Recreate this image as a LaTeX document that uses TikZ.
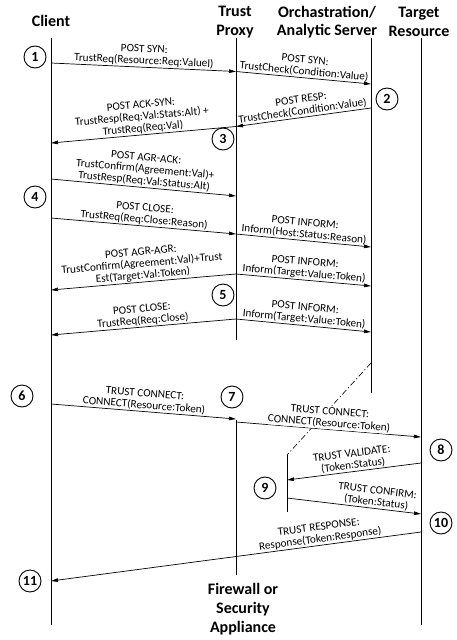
\documentclass[tikz,border=0pt]{standalone}
\usepackage{fontspec}
\setmainfont{Carlito}
\usetikzlibrary{arrows.meta}
\tikzset{
  life/.style={line width=0.8pt},
  msg/.style={line width=0.7pt, -{Triangle[length=7pt,width=3.6pt]}},
  lbl/.style={font=\fontsize{11.2}{11.8}\selectfont, align=center, sloped, above, inner sep=1pt},
  hdr/.style={font=\fontsize{16}{18.5}\selectfont\bfseries, align=center, inner sep=0pt},
  num/.style={circle, draw, line width=0.9pt, minimum size=22pt, inner sep=0pt, font=\fontsize{14}{14}\selectfont\bfseries},
}
\begin{document}
\begin{tikzpicture}[x=1pt,y=-1pt]
\useasboundingbox (0,0) rectangle (456,640);
% headers
\node[hdr] (hC) at (51,21) {Client};
\node[hdr] (hP) at (235,22) {Trust\\Proxy};
\node[hdr] (hO) at (327,22) {Orchastration/\\Analytic Server};
\node[hdr] (hT) at (419,22) {Target\\Resource};
\node[hdr, font=\fontsize{16}{19}\selectfont\bfseries] (hF) at (243,609) {Firewall or\\Security\\Appliance};
% lifelines
\coordinate (C0) at (51,38);  \coordinate (C1) at (51,625);
\coordinate (P0) at (236,38); \coordinate (P1) at (236,340);
\coordinate (P2) at (236,420); \coordinate (P3) at (236,575);
\coordinate (O0) at (371,38); \coordinate (O1) at (371,393);
\coordinate (T0) at (421,38); \coordinate (T1) at (421,625);
\coordinate (N0) at (287,455); \coordinate (N1) at (287,512);
\coordinate (D0) at (371,363);
\draw[life] (C0) -- (C1);
\draw[life] (P0) -- (P1);
\draw[life] (P2) -- (P3);
\draw[life] (O0) -- (O1);
\draw[life] (T0) -- (T1);
\draw[life] (N0) -- (N1);
\draw[line width=0.6pt, dash pattern=on 6pt off 2.5pt on 1.2pt off 2.5pt] (D0) -- (N0);
% message endpoints
\coordinate (a1) at (51,63);   \coordinate (b1) at (236,71.5); \coordinate (c1) at (371,84);
\coordinate (a2) at (371,108); \coordinate (b2) at (236,126.5); \coordinate (c2) at (51,143);
\coordinate (a3) at (51,179);  \coordinate (b3) at (236,196);
\coordinate (a4) at (51,218);  \coordinate (b4) at (236,234); \coordinate (c4) at (371,247);
\coordinate (b5) at (236,274); \coordinate (a5) at (51,290);  \coordinate (c5) at (371,286);
\coordinate (b6) at (236,319); \coordinate (a6) at (51,335);  \coordinate (c6) at (371,332);
\coordinate (a7) at (51,404);  \coordinate (b7) at (236,419);
\coordinate (b7r) at (236,422); \coordinate (c7) at (421,437);
\coordinate (a8) at (421,463); \coordinate (b8) at (287,480);
\coordinate (a9) at (287,498); \coordinate (b9) at (421,514);
\coordinate (a10) at (421,532); \coordinate (b10) at (51,581);
% messages
\draw[msg] (a1) -- node[lbl] {POST SYN:\\TrustReq(Resource:Req:Valuel)} (b1);
\draw[msg] (b1) -- node[lbl] {POST SYN:\\TrustCheck(Condition:Value)} (c1);
\draw[msg] (a2) -- node[lbl] {POST RESP:\\TrustCheck(Condition:Value)} (b2);
\draw[msg] (b2) -- node[lbl] {POST ACK-SYN:\\TrustResp(Req:Val:Stats:Alt) +\\TrustReq(Req:Val)} (c2);
\draw[msg] (a3) -- node[lbl] {POST AGR-ACK:\\TrustConfirm(Agreement:Val)+\\TrustResp(Req:Val:Status:Alt)} (b3);
\draw[msg] (a4) -- node[lbl] {POST CLOSE:\\TrustReq(Req:Close:Reason)} (b4);
\draw[msg] (b4) -- node[lbl] {POST INFORM:\\Inform(Host:Status:Reason)} (c4);
\draw[msg] (b5) -- node[lbl] {POST AGR-AGR:\\TrustConfirm(Agreement:Val)+Trust\\Est(Target:Val:Token)} (a5);
\draw[msg] (b5) -- node[lbl] {POST INFORM:\\Inform(Target:Value:Token)} (c5);
\draw[msg] (b6) -- node[lbl] {POST CLOSE:\\TrustReq(Req:Close)} (a6);
\draw[msg] (b6) -- node[lbl] {POST INFORM:\\Inform(Target:Value:Token)} (c6);
\draw[msg] (a7) -- node[lbl] {TRUST CONNECT:\\CONNECT(Resource:Token)} (b7);
\draw[msg] (b7r) -- node[lbl, fill=white] {TRUST CONNECT:\\CONNECT(Resource:Token)} (c7);
\draw[msg] (a8) -- node[lbl] {TRUST VALIDATE:\\(Token:Status)} (b8);
\draw[msg] (a9) -- node[lbl, pos=0.66] {TRUST CONFIRM:\\(Token:Status)} (b9);
\draw[msg] (a10) -- node[lbl, pos=0.27] {TRUST RESPONSE:\\Response(Token:Response)} (b10);
% step numbers
\node[num] (n1) at (35,57) {1};
\node[num] (n2) at (387,99) {2};
\node[num] (n3) at (223,139) {3};
\node[num] (n4) at (35,197) {4};
\node[num] (n5) at (223,295) {5};
\node[num] (n6) at (22,396) {6};
\node[num] (n7) at (232,397) {7};
\node[num] (n8) at (441,450) {8};
\node[num] (n9) at (265,488) {9};
\node[num] (n10) at (441,523) {10};
\node[num] (n11) at (30,581) {11};
\end{tikzpicture}
\end{document}
